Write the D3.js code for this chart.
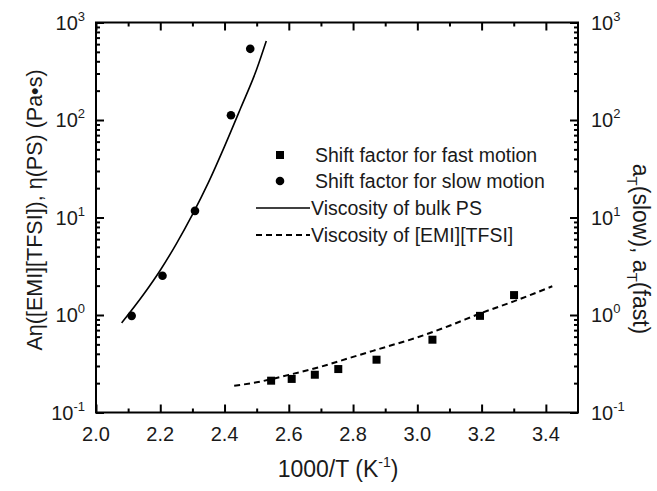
<!DOCTYPE html>
<html><head><meta charset="utf-8">
<script src="https://cdn.jsdelivr.net/npm/d3@7"></script>
<style>
body{margin:0;background:#fff;}
text{font-family:Arial,"Liberation Sans",sans-serif;fill:#1a1a1a;}
</style></head>
<body><svg id="c" width="657" height="491"></svg>
<script>
// Data
const fastX = [2.545, 2.609, 2.681, 2.754, 2.873, 3.047, 3.195, 3.301];
const fastY = [0.212, 0.221, 0.244, 0.279, 0.348, 0.558, 0.98, 1.60];
const slowX = [2.111, 2.207, 2.308, 2.420, 2.480];
const slowY = [0.98, 2.53, 11.7, 112, 537];
const psX = [2.08, 2.15, 2.2, 2.25, 2.3, 2.35, 2.4, 2.45, 2.5, 2.53];
const psY = [0.83, 1.66, 2.88, 5.37, 10.7, 22.9, 53.7, 132, 331, 646];
const ilX = [2.43, 2.5, 2.6, 2.7, 2.8, 2.9, 3.0, 3.1, 3.2, 3.3, 3.42];
const ilY = [0.188, 0.204, 0.243, 0.295, 0.372, 0.468, 0.589, 0.776, 1.05, 1.38, 1.97];
const xTicks = [2.0, 2.2, 2.4, 2.6, 2.8, 3.0, 3.2, 3.4];
const yExps = [-1, 0, 1, 2, 3];
const legendLabels = ["Shift factor for fast motion", "Shift factor for slow motion", "Viscosity of bulk PS", "Viscosity of [EMI][TFSI]"];

const L = 96, R = 578, T = 22.5, B = 412.5;
const svg = d3.select("#c");
const x = d3.scaleLinear().domain([2.0, 3.5]).range([L, R]);
const y = d3.scaleLog().domain([0.1, 1000]).range([B, T]);

const minorX = d3.range(2.1, 3.5, 0.2).map(v => +v.toFixed(1));
const minorY = [];
yExps.slice(0, -1).forEach(e => { for (let k = 2; k <= 9; k++) minorY.push(k * Math.pow(10, e)); });

function styleAxis(g) {
  g.select(".domain").remove();
  g.selectAll("line").attr("stroke", "#000").attr("stroke-width", 2);
}
svg.append("g").attr("transform", `translate(0,${B})`).call(d3.axisBottom(x).tickValues(xTicks).tickSize(-8).tickFormat("")).call(styleAxis);
svg.append("g").attr("transform", `translate(0,${B})`).call(d3.axisBottom(x).tickValues(minorX).tickSize(-4).tickFormat("")).call(styleAxis);
svg.append("g").attr("transform", `translate(0,${T})`).call(d3.axisTop(x).tickValues(xTicks).tickSize(-8).tickFormat("")).call(styleAxis);
svg.append("g").attr("transform", `translate(0,${T})`).call(d3.axisTop(x).tickValues(minorX).tickSize(-4).tickFormat("")).call(styleAxis);
const yMaj = yExps.map(e => Math.pow(10, e));
svg.append("g").attr("transform", `translate(${L},0)`).call(d3.axisLeft(y).tickValues(yMaj).tickSize(-8).tickFormat("")).call(styleAxis);
svg.append("g").attr("transform", `translate(${L},0)`).call(d3.axisLeft(y).tickValues(minorY).tickSize(-4).tickFormat("")).call(styleAxis);
svg.append("g").attr("transform", `translate(${R},0)`).call(d3.axisRight(y).tickValues(yMaj).tickSize(-8).tickFormat("")).call(styleAxis);
svg.append("g").attr("transform", `translate(${R},0)`).call(d3.axisRight(y).tickValues(minorY).tickSize(-4).tickFormat("")).call(styleAxis);
svg.append("rect").attr("x", L).attr("y", T).attr("width", R - L).attr("height", B - T)
  .attr("fill", "none").attr("stroke", "#000").attr("stroke-width", 2);

// x tick labels
svg.append("g").selectAll("text").data(xTicks).join("text")
  .attr("x", d => x(d)).attr("y", B + 28).attr("text-anchor", "middle")
  .attr("font-size", 20).text(d => d.toFixed(1));

// y tick labels
function yLabel(side) {
  const g = svg.append("g");
  yExps.forEach(e => {
    const t = g.append("text").attr("font-size", 20)
      .attr("y", y(Math.pow(10, e)) + 7);
    if (side === "left") t.attr("x", L - 11).attr("text-anchor", "end");
    else t.attr("x", R + 13).attr("text-anchor", "start");
    t.append("tspan").text("10");
    t.append("tspan").attr("font-size", 13).attr("dy", -9).text(e);
  });
}
yLabel("left"); yLabel("right");

// axis titles
const xt = svg.append("text").attr("x", 338).attr("y", 477).attr("text-anchor", "middle").attr("font-size", 23);
xt.append("tspan").text("1000/T (K");
xt.append("tspan").attr("font-size", 14).attr("dy", -10).text("-1");
xt.append("tspan").attr("dy", 10).text(")");

svg.append("text").attr("transform", `translate(42,210) rotate(-90)`)
  .attr("text-anchor", "middle").attr("font-size", 21.5).text("A\u03b7([EMI][TFSI]), \u03b7(PS) (Pa\u2022s)");

const rt = svg.append("text").attr("transform", `translate(633,249) rotate(90)`)
  .attr("text-anchor", "middle").attr("font-size", 23);
rt.append("tspan").text("a");
rt.append("tspan").attr("font-size", 15).attr("dy", 6).text("T");
rt.append("tspan").attr("dy", -6).text("(slow), a");
rt.append("tspan").attr("font-size", 15).attr("dy", 6).text("T");
rt.append("tspan").attr("dy", -6).text("(fast)");

// lines
const line = d3.line().x(d => x(d[0])).y(d => y(d[1])).curve(d3.curveMonotoneX);
svg.append("path").attr("d", line(psX.map((v, i) => [v, psY[i]])))
  .attr("fill", "none").attr("stroke", "#000").attr("stroke-width", 1.6);
svg.append("path").attr("d", line(ilX.map((v, i) => [v, ilY[i]])))
  .attr("fill", "none").attr("stroke", "#000").attr("stroke-width", 2).attr("stroke-dasharray", "6,4");

// markers
svg.append("g").selectAll("rect").data(fastX.map((v, i) => [v, fastY[i]])).join("rect")
  .attr("x", d => x(d[0]) - 4).attr("y", d => y(d[1]) - 4).attr("width", 8).attr("height", 8).attr("fill", "#000");
svg.append("g").selectAll("circle").data(slowX.map((v, i) => [v, slowY[i]])).join("circle")
  .attr("cx", d => x(d[0])).attr("cy", d => y(d[1])).attr("r", 4.3).attr("fill", "#000");

// legend
const lg = svg.append("g");
const rows = [155, 181, 208, 235];
lg.append("rect").attr("x", 276).attr("y", rows[0] - 4).attr("width", 8).attr("height", 8).attr("fill", "#000");
lg.append("circle").attr("cx", 280).attr("cy", rows[1]).attr("r", 4.3).attr("fill", "#000");
lg.append("line").attr("x1", 256).attr("x2", 310).attr("y1", rows[2]).attr("y2", rows[2]).attr("stroke", "#000").attr("stroke-width", 1.6);
lg.append("line").attr("x1", 256).attr("x2", 310).attr("y1", rows[3]).attr("y2", rows[3]).attr("stroke", "#000").attr("stroke-width", 2).attr("stroke-dasharray", "6,4");
lg.selectAll("text.l").data(legendLabels).join("text").attr("class", "l")
  .attr("x", (d, i) => i < 2 ? 315 : 311).attr("y", (d, i) => rows[i] + 7)
  .attr("font-size", 19.5).text(d => d);
</script></body></html>
